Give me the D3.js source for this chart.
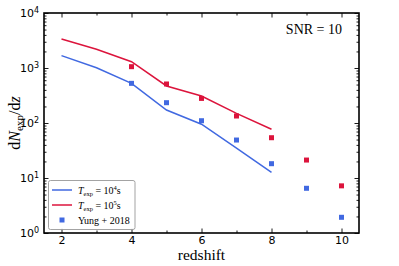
<!DOCTYPE html>
<html>
<head>
  <meta charset="utf-8">
  <title>dN/dz vs redshift</title>
  <script src="https://d3js.org/d3.v7.min.js"></script>
  <style>
    body { margin: 0; background: #fff; }
    .tick text { font-family: "DejaVu Sans", sans-serif; font-size: 11px; fill: #000; }
    .serif { font-family: "Liberation Serif", "DejaVu Serif", serif; }
  </style>
</head>
<body>
  <script>
    // data
    var zLine = [2, 3, 4, 5, 6, 7, 8];
    var t4 = [1680, 1010, 526, 172, 95, 35, 12.6];
    var t5 = [3370, 2190, 1300, 471, 309, 150, 77];
    var zYung = [4, 5, 6, 7, 8, 9, 10];
    var yungBlue = [526, 234, 110, 49, 18.2, 6.5, 1.93];
    var yungRed = [1057, 512, 280, 134, 54, 21.2, 7.2];
    var xTicks = [2, 4, 6, 8, 10];
    var yTicks = [1, 10, 100, 1000, 10000];

    var width = 399, height = 266;
    var pl = 44, pr = 359, pt = 13, pb = 233;
    var blue = "#4169e1", red = "#dc143c";

    var svg = d3.select("body").append("svg").attr("width", width).attr("height", height);

    var x = d3.scaleLinear().domain([1.5, 10.5]).range([pl, pr]);
    var y = d3.scaleLog().domain([1, 10000]).range([pb, pt]);

    // minor ticks
    var xMinor = d3.range(3, 11, 2);
    var yMinor = [];
    for (var e = 0; e < 4; e++) for (var m = 2; m < 10; m++) yMinor.push(m * Math.pow(10, e));

    function sup(sel) {
      sel.selectAll(".tick text").each(function(d) {
        var t = d3.select(this);
        t.text("10");
        t.append("tspan").attr("dy", "-0.45em").attr("font-size", "8px").text(Math.round(Math.log10(d)));
      });
    }

    // bottom
    svg.append("g").attr("transform", "translate(0," + pb + ")")
      .call(d3.axisBottom(x).tickValues(xTicks).tickSize(-4.5).tickPadding(3).tickFormat(d3.format("d")));
    svg.append("g").attr("transform", "translate(0," + pb + ")")
      .call(d3.axisBottom(x).tickValues(xMinor).tickSize(-2.5).tickFormat(""));
    // top
    svg.append("g").attr("transform", "translate(0," + pt + ")")
      .call(d3.axisTop(x).tickValues(xTicks).tickSize(-4.5).tickFormat(""));
    svg.append("g").attr("transform", "translate(0," + pt + ")")
      .call(d3.axisTop(x).tickValues(xMinor).tickSize(-2.5).tickFormat(""));
    // left
    svg.append("g").attr("transform", "translate(" + pl + ",0)")
      .call(d3.axisLeft(y).tickValues(yTicks).tickSize(-4.5).tickPadding(5))
      .call(sup);
    svg.append("g").attr("transform", "translate(" + pl + ",0)")
      .call(d3.axisLeft(y).tickValues(yMinor).tickSize(-2.5).tickFormat(""));
    // right
    svg.append("g").attr("transform", "translate(" + pr + ",0)")
      .call(d3.axisRight(y).tickValues(yTicks).tickSize(-4.5).tickFormat(""));
    svg.append("g").attr("transform", "translate(" + pr + ",0)")
      .call(d3.axisRight(y).tickValues(yMinor).tickSize(-2.5).tickFormat(""));

    svg.selectAll(".domain").remove();
    svg.selectAll(".tick line").attr("stroke", "#000").attr("stroke-width", 0.9);

    // frame
    svg.append("rect").attr("x", pl).attr("y", pt)
      .attr("width", pr - pl).attr("height", pb - pt)
      .attr("fill", "none").attr("stroke", "#000").attr("stroke-width", 1.6);

    var line = d3.line().x(d => x(d[0])).y(d => y(d[1]));

    svg.append("path").datum(d3.zip(zLine, t4)).attr("d", line)
      .attr("fill", "none").attr("stroke", blue).attr("stroke-width", 1.5);
    svg.append("path").datum(d3.zip(zLine, t5)).attr("d", line)
      .attr("fill", "none").attr("stroke", red).attr("stroke-width", 1.5);

    var s = 5;
    svg.append("g").selectAll("rect").data(d3.zip(zYung, yungBlue)).enter().append("rect")
      .attr("x", d => x(d[0]) - s / 2).attr("y", d => y(d[1]) - s / 2)
      .attr("width", s).attr("height", s).attr("fill", blue);
    svg.append("g").selectAll("rect").data(d3.zip(zYung, yungRed)).enter().append("rect")
      .attr("x", d => x(d[0]) - s / 2).attr("y", d => y(d[1]) - s / 2)
      .attr("width", s).attr("height", s).attr("fill", red);

    // labels
    svg.append("text").attr("class", "serif").attr("x", (pl + pr) / 2).attr("y", 260)
      .attr("text-anchor", "middle").attr("font-size", "15.5px").text("redshift");

    var yl = svg.append("text").attr("class", "serif").attr("font-size", "16px")
      .attr("text-anchor", "middle")
      .attr("transform", "translate(20," + ((pt + pb) / 2) + ") rotate(-90)");
    yl.append("tspan").text("d");
    yl.append("tspan").attr("font-style", "italic").text("N");
    yl.append("tspan").attr("font-size", "11px").attr("dy", "3").text("exp");
    yl.append("tspan").attr("dy", "-3").text("/d");
    yl.append("tspan").attr("font-style", "italic").text("z");

    svg.append("text").attr("class", "serif").attr("x", 342).attr("y", 34)
      .attr("text-anchor", "end").attr("font-size", "14px").text("SNR = 10");

    // legend
    var lg = svg.append("g");
    lg.append("rect").attr("x", 48.5).attr("y", 180.5).attr("width", 86.5).attr("height", 49)
      .attr("rx", 2).attr("fill", "#fff").attr("fill-opacity", 0.85)
      .attr("stroke", "#999").attr("stroke-width", 0.9);
    var entries = [
      { type: "line", color: blue, exp: "4" },
      { type: "line", color: red, exp: "5" },
      { type: "sq", color: blue }
    ];
    entries.forEach(function(en, i) {
      var yy = 190 + i * 15;
      if (en.type === "line") {
        lg.append("line").attr("x1", 52).attr("x2", 72).attr("y1", yy).attr("y2", yy)
          .attr("stroke", en.color).attr("stroke-width", 1.5);
        var t = lg.append("text").attr("class", "serif").attr("x", 78).attr("y", yy + 3.5).attr("font-size", "10px");
        t.append("tspan").attr("font-style", "italic").text("T");
        t.append("tspan").attr("font-size", "6.5px").attr("dy", "2").text("exp");
        t.append("tspan").attr("dy", "-2").text(" = 10");
        t.append("tspan").attr("font-size", "6.5px").attr("dy", "-4").text(en.exp);
        t.append("tspan").attr("dy", "4").text("s");
      } else {
        lg.append("rect").attr("x", 59.5).attr("y", yy - 2.5).attr("width", 5).attr("height", 5).attr("fill", en.color);
        lg.append("text").attr("class", "serif").attr("x", 78).attr("y", yy + 3.5).attr("font-size", "10px")
          .text("Yung + 2018");
      }
    });
  </script>
</body>
</html>
